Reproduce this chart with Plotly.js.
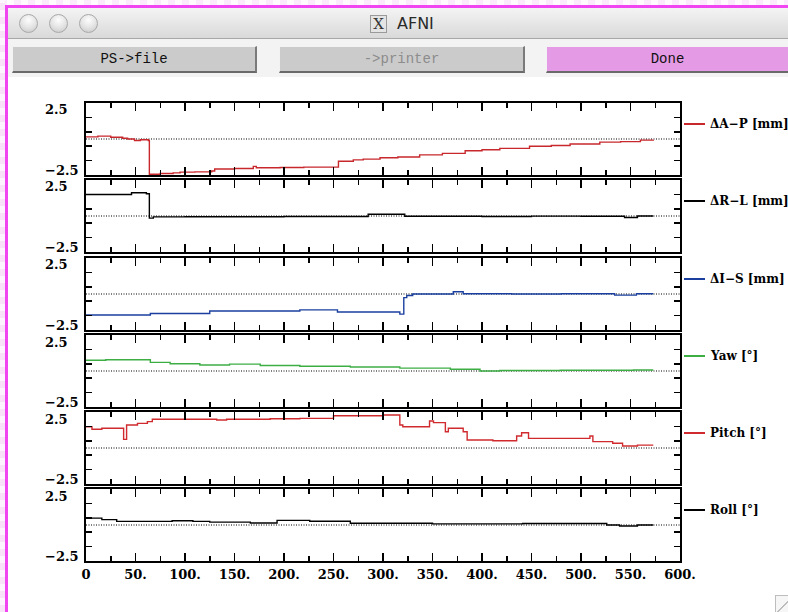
<!DOCTYPE html>
<html>
<head>
<meta charset="utf-8">
<script src="https://cdn.plot.ly/plotly-3.0.1.min.js"></script>
<style>
html,body{margin:0;padding:0;width:788px;height:612px;overflow:hidden;background:#fff;}
#plot{position:absolute;left:0;top:0;width:788px;height:612px;z-index:1;}
.c{position:absolute;z-index:2;box-sizing:border-box;}
.btn{position:absolute;z-index:2;box-sizing:border-box;top:46px;height:27px;border-top:1px solid #f2f2f2;border-left:1px solid #f2f2f2;border-right:2px solid #7a7a7a;border-bottom:2px solid #6a6a6a;font-family:"Liberation Mono","DejaVu Sans Mono",monospace;font-size:14px;line-height:24px;text-align:center;color:#111;}
.dot{position:absolute;z-index:3;width:19px;height:19px;border-radius:50%;top:14px;box-sizing:border-box;border:1px solid #a9a9a9;background:radial-gradient(circle at 50% 30%,#fdfdfd 0,#e2e2e2 55%,#c4c4c4 100%);}
</style>
</head>
<body>
<div id="plot"></div>

<!-- window chrome -->
<div class="c" style="left:0;top:0;width:788px;height:5px;background:repeating-linear-gradient(90deg,#fbeafb 0 7px,#fefafe 7px 14px);"></div>
<div class="c" style="left:0;top:0;width:5px;height:612px;background:repeating-linear-gradient(0deg,#f7e2f7 0 7px,#fdf5fd 7px 14px);"></div>
<div class="c" style="left:5px;top:5px;width:783px;height:3px;background:#f245f2;"></div>
<div class="c" style="left:5px;top:5px;width:3px;height:607px;background:#f245f2;"></div>
<div class="c" style="left:8px;top:8px;width:780px;height:31px;background:linear-gradient(#f4f4f4,#d9d9d9);border-bottom:1px solid #a8a8a8;"></div>
<div class="c" style="left:8px;top:39px;width:780px;height:38px;background:#f3f3f3;"></div>
<div class="dot" style="left:19px;"></div>
<div class="dot" style="left:49px;"></div>
<div class="dot" style="left:79px;"></div>
<div class="c" style="left:370px;top:15px;width:17px;height:18px;border:1px solid #9a9a9a;background:#e4e4e4;font-family:'DejaVu Serif',serif;font-size:15px;line-height:16px;text-align:center;color:#333;z-index:3;">X</div>
<div class="c" style="left:397px;top:14px;font-family:'DejaVu Sans','Noto Sans',sans-serif;font-size:16px;line-height:20px;color:#2a2a2a;z-index:3;">AFNI</div>
<div class="btn" style="left:12px;width:245px;background:#cbcbcb;">PS-&gt;file</div>
<div class="btn" style="left:279px;width:246px;background:#cbcbcb;color:#8c8c8c;">-&gt;printer</div>
<div class="btn" style="left:546px;width:242px;background:#e59ae5;border-right:none;">Done</div>
<div class="c" style="left:775px;top:595px;width:13px;height:17px;border-left:1px solid #bdbdbd;border-top:1px solid #bdbdbd;background:linear-gradient(135deg,#f6f6f6 0 60%,#bcbcbc 60% 66%,#f6f6f6 66%);"></div>

<script>
// ---------- data ----------
const xTickVals = [0, 50, 100, 150, 200, 250, 300, 350, 400, 450, 500, 550, 600];
const xTickText = ['0', '50.', '100.', '150.', '200.', '250.', '300.', '350.', '400.', '450.', '500.', '550.', '600.'];
const yTopLabel = '2.5';
const yBottomLabel = '\u22122.5';

const seriesNames = ['\u0394A\u2212P [mm]', '\u0394R\u2212L [mm]', '\u0394I\u2212S [mm]', 'Yaw [\u00b0]', 'Pitch [\u00b0]', 'Roll [\u00b0]'];
const seriesColors = ['#c8282c', '#000000', '#1a3f9e', '#3cae44', '#d02a2e', '#000000'];

const tAP = [0, 12, 25, 37, 42, 49, 55, 63, 64, 75, 88, 95, 110, 127, 130, 150, 169, 172, 196, 220, 254, 255, 270, 280, 297, 315, 337, 360, 383, 400, 418, 448, 470, 489, 519, 540, 560, 573];
const vAP = [0.15, 0.2, 0.12, 0.05, 0.0, -0.1, -0.05, -0.1, -2.45, -2.4, -2.35, -2.3, -2.28, -2.22, -2.08, -2.05, -1.9, -2.0, -1.98, -1.95, -1.95, -1.55, -1.45, -1.4, -1.3, -1.25, -1.1, -1.0, -0.82, -0.75, -0.65, -0.5, -0.45, -0.35, -0.22, -0.18, -0.08, -0.05];

const tRL = [0, 46, 61, 64, 68, 100, 150, 200, 250, 285, 322, 400, 450, 500, 544, 557, 573];
const vRL = [1.49, 1.61, 1.55, -0.15, -0.06, -0.05, -0.05, -0.03, -0.03, 0.12, -0.02, -0.03, -0.01, -0.02, -0.1, 0.0, 0.0];

const tIS = [0, 65, 125, 216, 254, 317, 321, 324, 330, 371, 381, 430, 480, 534, 556, 573];
const vIS = [-1.46, -1.35, -1.18, -1.1, -1.25, -1.4, -0.25, -0.1, 0.0, 0.16, 0.02, 0.0, 0.02, -0.08, 0.02, 0.02];

const tYaw = [0, 20, 65, 85, 115, 145, 176, 216, 267, 317, 368, 398, 418, 479, 553, 573];
const vYaw = [0.75, 0.78, 0.6, 0.5, 0.42, 0.48, 0.38, 0.33, 0.28, 0.2, 0.12, 0.0, 0.03, 0.05, 0.07, 0.07];

const tPitch = [0, 6, 16, 38, 41, 52, 62, 67, 132, 142, 186, 216, 250, 300, 317, 320, 347, 351, 363, 366, 381, 385, 411, 435, 440, 447, 509, 512, 532, 542, 557, 573];
const vPitch = [1.48, 1.3, 1.37, 0.6, 1.6, 1.71, 1.83, 2.0, 1.94, 2.0, 2.03, 2.06, 2.24, 2.29, 1.6, 1.48, 1.87, 1.76, 1.13, 1.37, 1.13, 0.56, 0.5, 0.83, 1.06, 0.67, 0.83, 0.44, 0.33, 0.14, 0.2, 0.2];

const tRoll = [0, 16, 31, 87, 108, 125, 166, 193, 226, 267, 350, 441, 480, 526, 539, 557, 573];
const vRoll = [0.48, 0.37, 0.25, 0.3, 0.25, 0.2, 0.14, 0.32, 0.26, 0.12, 0.08, 0.1, 0.1, 0.0, -0.07, 0.0, 0.0];

const seriesT = [tAP, tRL, tIS, tYaw, tPitch, tRoll];
const seriesV = [vAP, vRL, vIS, vYaw, vPitch, vRoll];

// ---------- layout ----------
const W = 788, H = 612;
const xL = 86 / W, xR = 680 / W;
const panelTops = [103, 180, 258, 335, 412, 489];
const panelH = 72;
const serif = 'DejaVu Serif, Liberation Serif, serif';

const traces = [];
const layout = {
  width: W, height: H,
  margin: {l: 0, r: 0, t: 0, b: 0},
  paper_bgcolor: '#ffffff',
  plot_bgcolor: '#ffffff',
  showlegend: false,
  shapes: [],
  annotations: []
};

for (let i = 0; i < 6; i++) {
  const s = i === 0 ? '' : String(i + 1);
  const top = panelTops[i];
  const dom = [(H - top - panelH) / H, (H - top) / H];

  traces.push({
    type: 'scatter', mode: 'lines',
    x: seriesT[i], y: seriesV[i],
    xaxis: 'x' + s, yaxis: 'y' + s,
    name: seriesNames[i],
    line: {color: seriesColors[i], width: 1.4, shape: 'hv'},
    hoverinfo: 'skip'
  });

  layout['xaxis' + s] = {
    domain: [xL, xR], range: [0, 600], anchor: 'y' + s,
    tickmode: 'array', tickvals: xTickVals, ticktext: xTickText,
    ticks: 'inside', ticklen: 8, tickwidth: 1.5, tickcolor: '#000',
    minor: {dtick: 25, tick0: 0, ticks: 'inside', ticklen: 5, tickwidth: 1.5, tickcolor: '#000', showgrid: false},
    showline: true, linewidth: 2, linecolor: '#000', mirror: 'ticks',
    showgrid: false, zeroline: false,
    showticklabels: i === 5,
    tickfont: {family: serif, size: 13, weight: 'bold', color: '#000'},
    fixedrange: true
  };
  if (i > 0) layout['xaxis' + s].matches = 'x';

  layout['yaxis' + s] = {
    domain: dom, range: [-2.5, 2.5], anchor: 'x' + s,
    tickmode: 'array', tickvals: [-1.5, -0.5, 0.5, 1.5],
    ticks: 'inside', ticklen: 6, tickwidth: 1.5, tickcolor: '#000',
    showticklabels: false,
    showline: true, linewidth: 2, linecolor: '#000', mirror: 'ticks',
    showgrid: false, zeroline: false, fixedrange: true
  };

  // dotted zero line
  layout.shapes.push({
    type: 'line', xref: 'x' + s, yref: 'y' + s,
    x0: 0, x1: 600, y0: 0, y1: 0,
    line: {color: '#000', width: 1.2, dash: '1px,1.5px'}, layer: 'below'
  });

  // y range labels
  layout.annotations.push({
    xref: 'paper', yref: 'y' + s + ' domain', x: 43 / W, y: 1 - 7 / panelH,
    xanchor: 'left', yanchor: 'middle', showarrow: false, text: yTopLabel,
    font: {family: serif, size: 13, weight: 'bold', color: '#000'}
  });
  layout.annotations.push({
    xref: 'paper', yref: 'y' + s + ' domain', x: 43 / W, y: 5 / panelH,
    xanchor: 'left', yanchor: 'middle', showarrow: false, text: yBottomLabel,
    font: {family: serif, size: 13, weight: 'bold', color: '#000'}
  });

  // per-panel legend
  const ly = (H - (top + 21)) / H;
  layout.shapes.push({
    type: 'line', xref: 'paper', yref: 'paper',
    x0: 684 / W, x1: 705 / W, y0: ly, y1: ly,
    line: {color: seriesColors[i], width: 2}
  });
  layout.annotations.push({
    xref: 'paper', yref: 'paper', x: 708 / W, y: ly,
    xanchor: 'left', yanchor: 'middle', showarrow: false, text: seriesNames[i],
    font: {family: serif, size: 12, weight: 'bold', color: '#000'}
  });
}

Plotly.newPlot('plot', traces, layout, {displayModeBar: false, staticPlot: true});
</script>
</body>
</html>
